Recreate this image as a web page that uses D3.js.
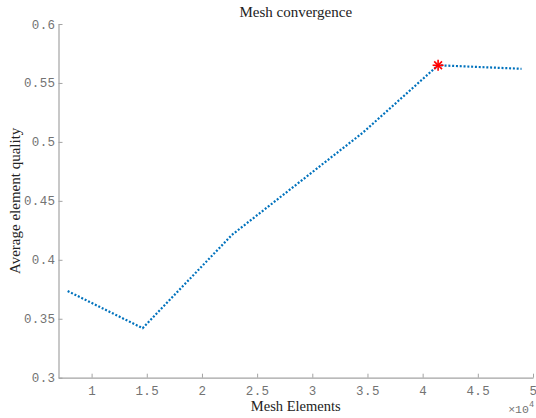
<!DOCTYPE html>
<html>
<head>
<meta charset="utf-8">
<script src="https://cdn.jsdelivr.net/npm/d3@7"></script>
<style>
  html, body { margin: 0; padding: 0; background: #fff; }
  svg { display: block; }
</style>
</head>
<body>
<svg id="chart" width="536" height="418"></svg>
<script>
// Mesh sizes (number of elements) and the average element quality for each
const meshElements = [7830, 14630, 22700, 34600, 41400, 48960];
const avgQuality   = [0.3735, 0.342, 0.421, 0.508, 0.565, 0.562];
// Best mesh, highlighted with a star
const bestIndex = 4;

const xTicks = [10000, 15000, 20000, 25000, 30000, 35000, 40000, 45000, 50000];
const xTickLabels = ["1", "1.5", "2", "2.5", "3", "3.5", "4", "4.5", "5"];
const yTicks = [0.3, 0.35, 0.4, 0.45, 0.5, 0.55, 0.6];
const yTickLabels = ["0.3", "0.35", "0.4", "0.45", "0.5", "0.55", "0.6"];

const svg = d3.select("#chart");
const margin = { left: 58.5, right: 3, top: 24, bottom: 40.3 };
const W = 536, H = 418;

const x = d3.scaleLinear().domain([7000, 50000]).range([margin.left, W - margin.right]);
const y = d3.scaleLinear().domain([0.3, 0.6]).range([H - margin.bottom, margin.top]);

const axisColor = "#a3a3a3";
const tickColor = "#737373";
const tickFont = "'Liberation Mono', 'DejaVu Sans Mono', monospace";
const serif = "'Liberation Serif', 'DejaVu Serif', serif";

// X axis (ticks pointing inward)
const xAxis = d3.axisBottom(x).tickValues(xTicks)
  .tickFormat((d, i) => xTickLabels[i]).tickSizeInner(-4).tickSizeOuter(0).tickPadding(8);
const gx = svg.append("g").attr("transform", `translate(0,${y(0.3)})`).call(xAxis);
gx.select(".domain").attr("stroke", axisColor).attr("stroke-width", 1.2);
gx.selectAll(".tick line").attr("stroke", axisColor);
gx.selectAll(".tick text").attr("fill", tickColor).style("font-family", tickFont)
  .style("font-size", "12.5px").style("letter-spacing", "0.4px");

// Y axis (ticks pointing inward)
const yAxis = d3.axisLeft(y).tickValues(yTicks)
  .tickFormat((d, i) => yTickLabels[i]).tickSizeInner(-4).tickSizeOuter(0).tickPadding(3);
const gy = svg.append("g").attr("transform", `translate(${x(7000)},0)`).call(yAxis);
gy.select(".domain").attr("stroke", axisColor).attr("stroke-width", 1.2);
gy.selectAll(".tick line").attr("stroke", axisColor);
gy.selectAll(".tick text").attr("fill", tickColor).style("font-family", tickFont)
  .style("font-size", "12.5px").style("letter-spacing", "0.4px");

// Exponent marker for the x axis
const expo = svg.append("text")
  .attr("x", W - 2).attr("y", 413)
  .attr("text-anchor", "end")
  .attr("fill", tickColor)
  .style("font-family", tickFont).style("font-size", "11.5px");
expo.append("tspan").text("\u00d710");
expo.append("tspan").attr("dy", -6).style("font-size", "8.5px").text("4");

// Data line (dotted)
const line = d3.line().x((d, i) => x(meshElements[i])).y(d => y(d));
svg.append("path")
  .datum(avgQuality)
  .attr("d", line)
  .attr("fill", "none")
  .attr("stroke", "#0072BD")
  .attr("stroke-width", 2.2)
  .attr("stroke-dasharray", "2,1.8");

// Star marker on the best mesh
const sx = x(meshElements[bestIndex]), sy = y(avgQuality[bestIndex]);
const r = 5.5;
const star = svg.append("g").attr("transform", `translate(${sx},${sy})`)
  .attr("stroke", "#ff0000").attr("stroke-width", 1.6);
[0, 45, 90, 135].forEach(a => {
  const rad = a * Math.PI / 180;
  star.append("line")
    .attr("x1", -r * Math.cos(rad)).attr("y1", -r * Math.sin(rad))
    .attr("x2", r * Math.cos(rad)).attr("y2", r * Math.sin(rad));
});

// Title and axis labels
svg.append("text").attr("x", (x(7000) + x(50000)) / 2).attr("y", 17)
  .attr("text-anchor", "middle").attr("fill", "#222")
  .style("font-family", serif).style("font-size", "15px")
  .text("Mesh convergence");

svg.append("text").attr("x", (x(7000) + x(50000)) / 2).attr("y", 411)
  .attr("text-anchor", "middle").attr("fill", "#222")
  .style("font-family", serif).style("font-size", "14.5px")
  .text("Mesh Elements");

svg.append("text")
  .attr("transform", `translate(20,${(y(0.3) + y(0.6)) / 2}) rotate(-90)`)
  .attr("text-anchor", "middle").attr("fill", "#222")
  .style("font-family", serif).style("font-size", "15px")
  .text("Average element quality");
</script>
</body>
</html>
